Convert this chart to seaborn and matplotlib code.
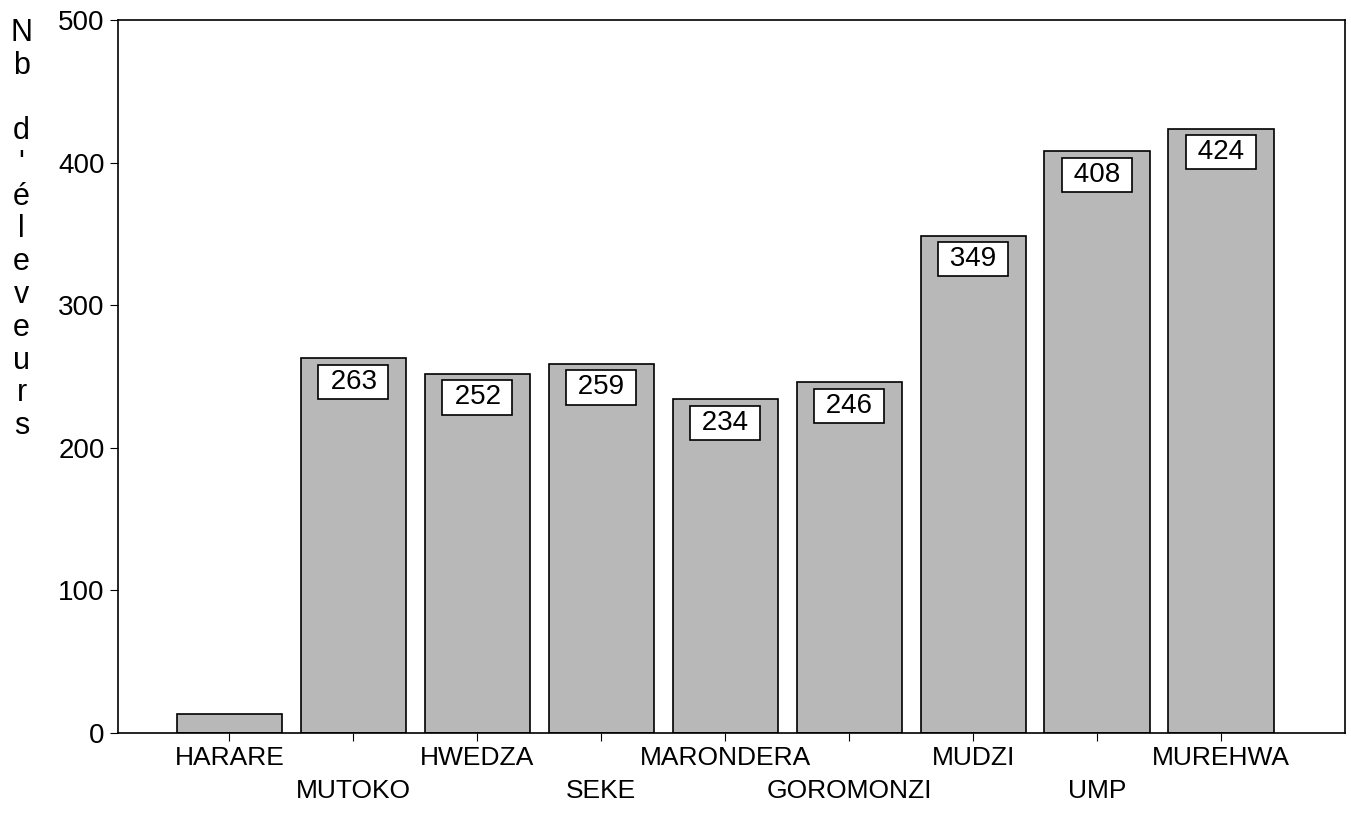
import matplotlib
matplotlib.use("Agg")
import matplotlib.pyplot as plt
import seaborn as sns
import pandas as pd

districts = ["HARARE", "MUTOKO", "HWEDZA", "SEKE", "MARONDERA",
             "GOROMONZI", "MUDZI", "UMP", "MUREHWA"]
eleveurs = [13, 263, 252, 259, 234, 246, 349, 408, 424]
shown_labels = [None, "263", "252", "259", "234", "246", "349", "408", "424"]

df = pd.DataFrame({"District": districts, "Nb": eleveurs})

sns.set_style("white")
plt.rcParams["font.family"] = ["Liberation Sans", "DejaVu Sans"]
plt.rcParams["text.color"] = "black"
plt.rcParams["xtick.color"] = "black"
plt.rcParams["ytick.color"] = "black"

fig = plt.figure(figsize=(13.51, 8.14), dpi=100)
ax = fig.add_axes([0.0873, 0.0995, 0.9083, 0.8755])

sns.barplot(data=df, x="District", y="Nb", color="#b8b8b8", saturation=1,
            edgecolor="black", linewidth=1.2, width=0.85, ax=ax)

# value boxes inside the bars
for i, (v, lab) in enumerate(zip(eleveurs, shown_labels)):
    if lab is None:
        continue
    ax.annotate(" " + lab + " ", (i, v), xytext=(0, -17), textcoords="offset points",
                ha="center", va="center", fontsize=20,
                bbox=dict(boxstyle="square,pad=0.15", fc="white", ec="black", lw=1.2))

ax.set_xlim(-0.9, 9.0)
ax.set_ylim(0, 500)
ax.set_yticks([0, 100, 200, 300, 400, 500])
ax.tick_params(axis="y", labelsize=20, length=6, direction="out", left=True)
ax.tick_params(axis="x", labelsize=19, length=6, direction="out", bottom=True)
ax.set_xlabel("")
ax.set_ylabel("")

# staggered category labels
for i, t in enumerate(ax.xaxis.get_major_ticks()):
    t.set_pad(3 if i % 2 == 0 else 27)

for s in ax.spines.values():
    s.set_visible(True)
    s.set_color("black")
    s.set_linewidth(1.2)

# stacked vertical axis title
fig.text(0.016, 0.978, "N\nb\n\nd\n'\né\nl\ne\nv\ne\nu\nr\ns", ha="center", va="top",
         fontsize=22, linespacing=1.12)

fig.savefig("out.png", dpi=100)
